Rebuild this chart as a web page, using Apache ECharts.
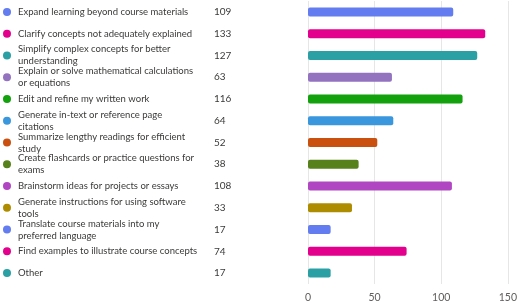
<!DOCTYPE html>
<html>
<head>
<meta charset="utf-8">
<script src="https://cdn.jsdelivr.net/npm/echarts@6/dist/echarts.min.js"></script>
<style>
  html, body { margin: 0; padding: 0; background: #fff; }
  #chart { width: 520px; height: 303px; }
</style>
</head>
<body>
<div id="chart"></div>
<script>
// categories (line breaks as in the picture)
var categories = [
  'Expand learning beyond course materials',
  'Clarify concepts not adequately explained',
  'Simplify complex concepts for better\nunderstanding',
  'Explain or solve mathematical calculations\nor equations',
  'Edit and refine my written work',
  'Generate in-text or reference page\ncitations',
  'Summarize lengthy readings for efficient\nstudy',
  'Create flashcards or practice questions for\nexams',
  'Brainstorm ideas for projects or essays',
  'Generate instructions for using software\ntools',
  'Translate course materials into my\npreferred language',
  'Find examples to illustrate course concepts',
  'Other'
];
var counts = [109, 133, 127, 63, 116, 64, 52, 38, 108, 33, 17, 74, 17];
var colors = ['#637CEF', '#E3008C', '#2AA0A4', '#9373C0', '#13A10E', '#3A96DD',
  '#CA5010', '#57811B', '#B146C2', '#AE8C00', '#637CEF', '#E3008C', '#2AA0A4'];
var xTicks = [0, 50, 100, 150];

var FONT = 'Lato, "Segoe UI", sans-serif';

// rich styles for the coloured dots
var dotRich = {};
colors.forEach(function (c, i) {
  dotRich['d' + i] = { width: 8, height: 8, borderRadius: 4, backgroundColor: c };
});

function catAxis(labelOpt) {
  return {
    type: 'category',
    inverse: true,
    data: categories,
    position: 'left',
    axisLine: { show: false },
    axisTick: { show: false },
    splitLine: { show: false },
    axisLabel: labelOpt
  };
}

var chart = echarts.init(document.getElementById('chart'), null, { renderer: 'canvas' });
chart.setOption({
  animation: false,
  textStyle: { fontFamily: FONT },
  grid: { left: 306, right: 8, top: 1, bottom: 17, containLabel: false },
  xAxis: {
    type: 'value',
    min: xTicks[0],
    max: xTicks[xTicks.length - 1],
    interval: 50,
    axisLine: { show: false },
    axisTick: { show: false },
    splitLine: { show: true, lineStyle: { color: '#e6e6e6', width: 1 } },
    axisLabel: { color: '#605e5c', fontSize: 10.5, fontFamily: FONT, margin: 8 }
  },
  yAxis: [
    catAxis({
      align: 'left', margin: 290, color: '#3b3a39', fontSize: 9.5,
      lineHeight: 12, fontFamily: FONT
    }),
    catAxis({
      align: 'left', margin: 94, color: '#3b3a39', fontSize: 10, fontFamily: FONT,
      formatter: function (v, i) { return String(counts[i]); }
    }),
    catAxis({
      align: 'left', margin: 305, rich: dotRich,
      formatter: function (v, i) { return '{d' + i + '|}'; }
    })
  ],
  series: [{
    type: 'bar',
    yAxisIndex: 0,
    data: counts,
    barWidth: 9,
    itemStyle: {
      borderRadius: 2,
      color: function (p) { return colors[p.dataIndex]; }
    }
  }]
});
</script>
</body>
</html>
